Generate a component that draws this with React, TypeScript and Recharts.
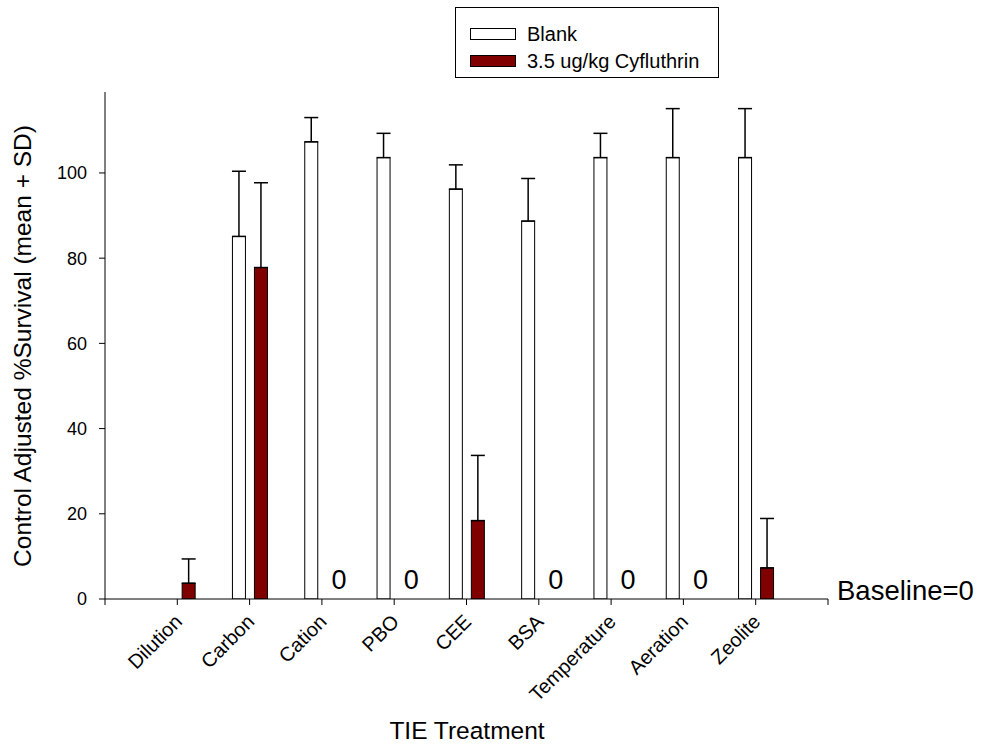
import React from 'react';
import { BarChart, Bar, XAxis, YAxis, ErrorBar, Legend, Label, ReferenceLine, ReferenceDot } from 'recharts';

const FONT = '"Liberation Sans", Arial, sans-serif';

// TIE treatments, placed at x = 1..9 on a 0..10 axis
const treatments = ['Dilution', 'Carbon', 'Cation', 'PBO', 'CEE', 'BSA', 'Temperature', 'Aeration', 'Zeolite'];
const blankMean = [null, 85.1, 107.3, 103.6, 96.2, 88.7, 103.6, 103.6, 103.6];
const blankSd = [null, 15.3, 5.7, 5.7, 5.7, 10.0, 5.7, 11.5, 11.5];
const cyfluMean = [3.7, 77.8, 0, 0, 18.4, 0, 0, 0, 7.3];
const cyfluSd = [5.7, 19.9, null, null, 15.3, null, null, null, 11.6];
const xTicks = [0, 1, 2, 3, 4, 5, 6, 7, 8, 9, 10];
const yTicks = [0, 20, 40, 60, 80, 100];

const data = treatments.map((name, i) => ({
  pos: i + 1,
  name,
  blank: blankMean[i],
  blankErr: blankSd[i] == null ? null : [0, blankSd[i]],
  cyflu: cyfluMean[i],
  cyfluErr: cyfluSd[i] == null ? null : [0, cyfluSd[i]],
}));

// cyfluthrin treatments with zero survival get a "0" marker
const zeroPositions = data.filter((d) => d.cyflu === 0).map((d) => d.pos);

const TreatmentTick = (props: any) => {
  const { x, y, payload } = props;
  const name = treatments[payload.value - 1];
  if (!name) return null;
  return (
    <text
      transform={`translate(${x + 6},${y + 16}) rotate(-45)`}
      textAnchor="end"
      fontSize={20}
      fontFamily={FONT}
      fill="#000"
    >
      {name}
    </text>
  );
};

const ZeroLabel = (props: any) => {
  const vb = props.viewBox || {};
  const cx = (vb.x ?? 0) + (vb.width ?? 0) / 2;
  const cy = (vb.y ?? 0) + (vb.height ?? 0) / 2;
  return (
    <text x={cx + 17} y={cy - 10} textAnchor="middle" fontSize={27} fontFamily={FONT} fill="#000">
      0
    </text>
  );
};

const LegendBox = () => (
  <div
    style={{
      position: 'relative',
      width: 264,
      height: 71,
      border: '1px solid #000',
      boxSizing: 'border-box',
      background: '#fff',
      fontFamily: FONT,
      fontSize: 20,
      color: '#000',
    }}
  >
    <div style={{ position: 'absolute', left: 14, top: 20, width: 46, height: 12, border: '1px solid #000', boxSizing: 'border-box', background: '#fff' }} />
    <div style={{ position: 'absolute', left: 71, top: 14, lineHeight: '24px' }}>Blank</div>
    <div style={{ position: 'absolute', left: 14, top: 47, width: 46, height: 12, border: '1px solid #000', boxSizing: 'border-box', background: '#800000' }} />
    <div style={{ position: 'absolute', left: 71, top: 41, lineHeight: '24px' }}>3.5 ug/kg Cyfluthrin</div>
  </div>
);

export default function App() {
  return (
    <div style={{ position: 'absolute', left: 0, top: 0, width: 981, height: 746, background: '#fff' }}>
      <BarChart
        width={981}
        height={746}
        data={data}
        margin={{ top: 92, right: 153, left: 25, bottom: 7 }}
        barGap={9}
        style={{ fontFamily: FONT }}
      >
        <XAxis
          dataKey="pos"
          type="number"
          domain={[0, 10]}
          ticks={xTicks}
          interval={0}
          height={140}
          stroke="#000"
          tickSize={6}
          tick={<TreatmentTick />}
        >
          <Label
            content={() => (
              <text x={467} y={739} textAnchor="middle" fontSize={24.5} fontFamily={FONT} fill="#000">
                TIE Treatment
              </text>
            )}
          />
        </XAxis>
        <YAxis
          type="number"
          domain={[0, 119]}
          ticks={yTicks}
          width={80}
          stroke="#000"
          tickSize={6}
          tickMargin={12}
          tick={{ fontSize: 18, fill: '#000', fontFamily: FONT }}
          allowDataOverflow
        >
          <Label
            content={() => (
              <text
                x={0}
                y={0}
                transform="translate(31,346) rotate(-90)"
                textAnchor="middle"
                fontSize={24.5}
                fontFamily={FONT}
                fill="#000"
              >
                Control Adjusted %Survival (mean + SD)
              </text>
            )}
          />
        </YAxis>
        <ReferenceLine
          y={0}
          stroke="none"
          label={{
            content: () => (
              <text x={837} y={600} fontSize={27.5} fontFamily={FONT} fill="#000">
                Baseline=0
              </text>
            ),
          }}
        />
        {zeroPositions.map((p) => (
          <ReferenceDot key={p} x={p} y={0} r={0} fill="none" stroke="none" label={<ZeroLabel />} />
        ))}
        <Legend
          layout="horizontal"
          verticalAlign="middle"
          align="center"
          wrapperStyle={{ left: 455, top: 7, width: 264 }}
          content={() => <LegendBox />}
        />
        <Bar dataKey="blank" name="Blank" fill="#fff" stroke="#000" strokeWidth={1} barSize={13} isAnimationActive={false}>
          <ErrorBar dataKey="blankErr" width={7} stroke="#000" strokeWidth={1.5} direction="y" />
        </Bar>
        <Bar dataKey="cyflu" name="3.5 ug/kg Cyfluthrin" fill="#800000" stroke="#000" strokeWidth={1} barSize={13} isAnimationActive={false}>
          <ErrorBar dataKey="cyfluErr" width={7} stroke="#000" strokeWidth={1.5} direction="y" />
        </Bar>
      </BarChart>
    </div>
  );
}
